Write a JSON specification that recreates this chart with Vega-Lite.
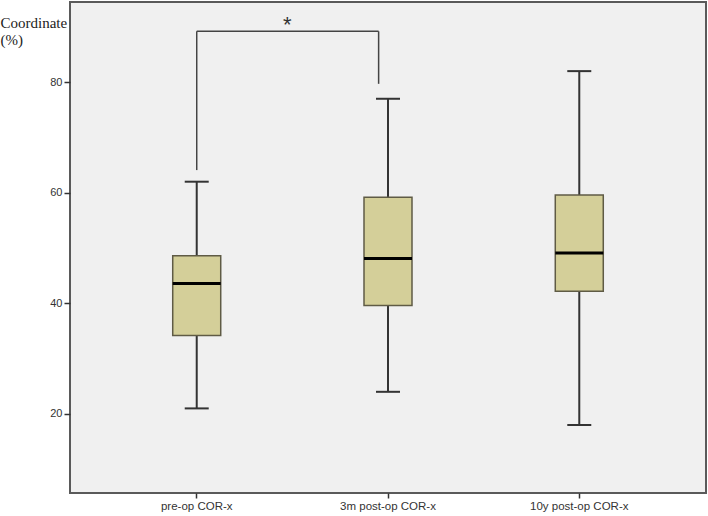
{
  "$schema": "https://vega.github.io/schema/vega-lite/v6.json",
  "width": 636,
  "height": 491,
  "autosize": {"type": "none"},
  "padding": {"left": 70, "top": 2, "right": 2, "bottom": 23},
  "background": "white",
  "config": {
    "view": {"fill": "#f0f0f0", "stroke": "#5a5a5a", "strokeWidth": 2},
    "axisX": {"labelAngle": 0, "labelFont": "Liberation Sans", "labelFontSize": 11.5, "labelColor": "#333333", "tickColor": "#333333", "tickSize": 5, "tickWidth": 1.5, "labelPadding": 2, "domain": false, "grid": false},
    "axisY": {
      "titleAngle": 0, "titleAlign": "left", "titleBaseline": "alphabetic",
      "titleX": -70, "titleY": 25, "titleFont": "Liberation Serif", "titleFontSize": 15, "titleFontWeight": "normal",
      "titleColor": "#222222", "titleLineHeight": 17,
      "labelFont": "Liberation Sans", "labelFontSize": 11, "labelColor": "#333333",
      "tickColor": "#333333", "tickSize": 6, "tickWidth": 1.5, "labelPadding": 2, "domain": false, "grid": false
    }
  },
  "datasets": {
    "boxes": [
      {"group": "pre-op COR-x", "lower": 21, "q1": 34.2, "median": 43.6, "q3": 48.6, "upper": 62},
      {"group": "3m post-op COR-x", "lower": 24, "q1": 39.6, "median": 48.1, "q3": 59.2, "upper": 77},
      {"group": "10y post-op COR-x", "lower": 18, "q1": 42.2, "median": 49.1, "q3": 59.6, "upper": 82}
    ],
    "bracket": [
      {"from": "pre-op COR-x", "to": "3m post-op COR-x", "top": 89.2, "leftEnd": 64.1, "rightEnd": 79.7, "label": "*"}
    ]
  },
  "layer": [
    {
      "data": {"name": "boxes"},
      "mark": {"type": "rule", "color": "#333333", "strokeWidth": 2},
      "encoding": {
        "x": {
          "field": "group", "type": "nominal", "sort": null, "title": null,
          "scale": {"domain": ["pre-op COR-x", "3m post-op COR-x", "10y post-op COR-x"], "paddingInner": 0, "paddingOuter": 0.1625}
        },
        "y": {
          "field": "lower", "type": "quantitative", "title": ["Coordinate", "(%)"],
          "scale": {"domain": [5.7, 94.5], "nice": false, "zero": false},
          "axis": {"values": [20, 40, 60, 80]}
        },
        "y2": {"field": "upper"}
      }
    },
    {
      "data": {"name": "boxes"},
      "mark": {"type": "bar", "size": 48, "fill": "#d4cf99", "stroke": "#5f5b45", "strokeWidth": 1.5},
      "encoding": {
        "x": {"field": "group", "type": "nominal", "sort": null, "title": null},
        "y": {"field": "q1", "type": "quantitative", "title": ["Coordinate", "(%)"]},
        "y2": {"field": "q3"}
      }
    },
    {
      "data": {"name": "boxes"},
      "mark": {"type": "tick", "size": 48, "thickness": 3, "color": "#000000", "opacity": 1},
      "encoding": {
        "x": {"field": "group", "type": "nominal", "sort": null, "title": null},
        "y": {"field": "median", "type": "quantitative", "title": ["Coordinate", "(%)"]}
      }
    },
    {
      "data": {"name": "boxes"},
      "mark": {"type": "tick", "size": 24, "thickness": 2, "color": "#333333", "opacity": 1},
      "encoding": {
        "x": {"field": "group", "type": "nominal", "sort": null, "title": null},
        "y": {"field": "upper", "type": "quantitative", "title": ["Coordinate", "(%)"]}
      }
    },
    {
      "data": {"name": "boxes"},
      "mark": {"type": "tick", "size": 24, "thickness": 2, "color": "#333333", "opacity": 1},
      "encoding": {
        "x": {"field": "group", "type": "nominal", "sort": null, "title": null},
        "y": {"field": "lower", "type": "quantitative", "title": ["Coordinate", "(%)"]}
      }
    },
    {
      "data": {"name": "bracket"},
      "mark": {"type": "rule", "color": "#444444", "strokeWidth": 1.5},
      "encoding": {
        "x": {"field": "from", "type": "nominal", "title": null},
        "y": {"field": "top", "type": "quantitative", "title": ["Coordinate", "(%)"]},
        "y2": {"field": "leftEnd"}
      }
    },
    {
      "data": {"name": "bracket"},
      "mark": {"type": "rule", "color": "#444444", "strokeWidth": 1.5},
      "encoding": {
        "x": {"field": "to", "type": "nominal", "bandPosition": 0.451, "title": null},
        "y": {"field": "top", "type": "quantitative", "title": ["Coordinate", "(%)"]},
        "y2": {"field": "rightEnd"}
      }
    },
    {
      "data": {"name": "bracket"},
      "mark": {"type": "rule", "color": "#444444", "strokeWidth": 1.5},
      "encoding": {
        "x": {"field": "from", "type": "nominal", "title": null},
        "x2": {"field": "to", "bandPosition": 0.451},
        "y": {"field": "top", "type": "quantitative", "title": ["Coordinate", "(%)"]}
      }
    },
    {
      "data": {"name": "bracket"},
      "mark": {"type": "text", "font": "Liberation Sans", "fontSize": 22, "color": "#333333", "baseline": "alphabetic", "align": "center", "dy": 1},
      "encoding": {
        "x": {"field": "from", "type": "nominal", "bandPosition": 0.973, "title": null},
        "y": {"field": "top", "type": "quantitative", "title": ["Coordinate", "(%)"]},
        "text": {"field": "label"}
      }
    }
  ]
}
